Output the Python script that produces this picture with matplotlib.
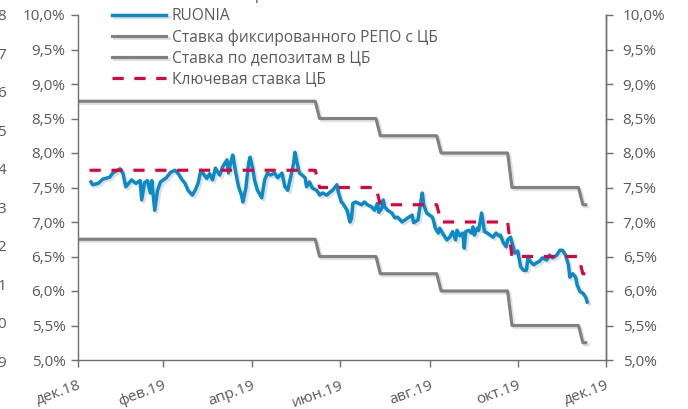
import numpy as np
import pandas as pd
import matplotlib
matplotlib.use("Agg")
import matplotlib.pyplot as plt
import matplotlib.patheffects as pe
from matplotlib.ticker import FuncFormatter

plt.rcParams['font.family'] = ['Open Sans', 'DejaVu Sans']

# RUONIA, days after 1 Jan 2019 and value in %
ruonia_day = [9, 10, 14, 17, 22, 24, 29, 31, 33, 37, 40, 43, 44, 46, 48, 50, 51, 53, 55, 57, 61,
              64, 67, 69, 72, 74, 76, 79, 81, 83, 85, 86, 89, 91, 93, 95, 97, 98, 100, 103, 104,
              106, 107, 109, 111, 113, 114, 116, 118, 119, 121, 122, 124, 127, 129, 131, 133, 136,
              138, 141, 143, 145, 147, 149, 150, 151, 153, 155, 157, 158, 160, 162, 165, 167, 169,
              172, 174, 176, 179, 180, 182, 183, 186, 188, 189, 190, 192, 194, 196, 198, 200, 203,
              205, 207, 208, 210, 211, 212, 214, 217, 219, 221, 224, 226, 228, 231, 232, 235, 236,
              238, 239, 241, 243, 245, 246, 247, 249, 250, 252, 254, 255, 257, 259, 261, 262, 264,
              266, 267, 268, 270, 272, 273, 274, 276, 277, 279, 280, 281, 283, 285, 287, 289, 291,
              292, 294, 296, 297, 299, 300, 302, 304, 306, 308, 310, 311, 313, 315, 317, 319, 321,
              324, 326, 328, 331, 333, 335, 337, 339, 340, 342, 344, 345, 347, 349, 351, 352]
ruonia_val = [7.58, 7.54, 7.56, 7.62, 7.65, 7.71, 7.77, 7.71, 7.51, 7.61, 7.56, 7.60, 7.32, 7.57,
              7.60, 7.42, 7.60, 7.17, 7.46, 7.58, 7.64,
              7.72, 7.75, 7.71, 7.61, 7.56, 7.46, 7.39, 7.46, 7.56, 7.75, 7.72, 7.63, 7.70, 7.61,
              7.78, 7.71, 7.68, 7.80, 7.90, 7.71, 7.90, 7.97, 7.72, 7.51, 7.39, 7.29, 7.49, 7.86,
              7.94, 7.75, 7.61, 7.46, 7.35, 7.61, 7.71, 7.68, 7.71, 7.64, 7.71, 7.51, 7.46, 7.65,
              7.85, 8.01, 7.90, 7.71, 7.68, 7.64, 7.51, 7.58, 7.49, 7.46, 7.39, 7.42, 7.39, 7.43,
              7.46, 7.54, 7.43, 7.29, 7.27, 7.17, 7.00, 7.05, 7.27, 7.29, 7.27, 7.25, 7.29, 7.25,
              7.22, 7.17, 7.27, 7.14, 7.20, 7.32, 7.22, 7.17, 7.13, 7.06, 7.07, 7.00, 7.03, 7.06,
              7.10, 6.99, 7.03, 7.17, 7.42, 7.25, 7.13, 7.10, 7.07, 7.00, 6.91, 6.84, 6.91, 6.84,
              6.77, 6.74, 6.78, 6.86, 6.74, 6.88, 6.80, 6.84, 6.62, 6.86, 6.88, 6.84, 6.93, 6.81,
              6.91, 6.88, 7.13, 6.99, 6.86, 6.84, 6.81, 6.78, 6.84, 6.80, 6.81, 6.70, 6.64, 6.74,
              6.78, 6.70, 6.55, 6.58, 6.35, 6.30, 6.30, 6.49, 6.42, 6.38, 6.41, 6.43, 6.48, 6.45,
              6.52, 6.48, 6.52, 6.59, 6.59, 6.52, 6.38, 6.20, 6.25, 6.20, 6.09, 5.99, 5.97, 5.91,
              5.84]
assert len(ruonia_day) == len(ruonia_val)

# CBR decisions
change_dates = ['2019-01-01', '2019-06-17', '2019-07-29', '2019-09-09', '2019-10-28', '2019-12-16']
key_rates = [7.75, 7.50, 7.25, 7.00, 6.50, 6.25]
repo_rates = [8.75, 8.50, 8.25, 8.00, 7.50, 7.25]
depo_rates = [6.75, 6.50, 6.25, 6.00, 5.50, 5.25]

xtick_dates = ['2019-01-01', '2019-03-01', '2019-05-01', '2019-07-01', '2019-09-01',
               '2019-11-01', '2020-01-01']
xtick_labels = ['дек.18', 'фев.19', 'апр.19', 'июн.19', 'авг.19', 'окт.19', 'дек.19']

labels = ['RUONIA', 'Ставка фиксированного РЕПО с ЦБ', 'Ставка по депозитам в ЦБ',
          'Ключевая ставка ЦБ']

BLUE = '#0a8ac6'
GREY = '#808080'
RED = '#e2003c'
TXT = '#595959'
AX = '#6e6e6e'


def step_series(start, end, rates):
    days = pd.bdate_range(start, end)
    idx = np.searchsorted(pd.to_datetime(change_dates), days, side='right') - 1
    return days, np.asarray(rates)[idx]


ruonia_dates = pd.Timestamp('2019-01-01') + pd.to_timedelta(ruonia_day, unit='D')
g_days, repo = step_series('2019-01-01', '2019-12-18', repo_rates)
_, depo = step_series('2019-01-01', '2019-12-18', depo_rates)
k_days, key = step_series('2019-01-09', '2019-12-18', key_rates)

fig = plt.figure(figsize=(6.88, 4.09), dpi=100)
ax = fig.add_axes([78 / 688, 1 - 360 / 409, 528 / 688, 345 / 409])

shadow = [pe.SimpleLineShadow(offset=(1.5, -1.5), shadow_color='0.4', alpha=0.2), pe.Normal()]
lw = 2.25
l_repo, = ax.plot(g_days, repo, color=GREY, lw=lw, path_effects=shadow, zorder=2)
l_depo, = ax.plot(g_days, depo, color=GREY, lw=lw, path_effects=shadow, zorder=2)
l_ru, = ax.plot(ruonia_dates, ruonia_val, color=BLUE, lw=2.5, path_effects=shadow, zorder=3,
                solid_joinstyle='round')
l_key, = ax.plot(k_days, key, color=RED, lw=lw, dashes=(3.6, 3.4), zorder=4)

ax.set_xlim(pd.Timestamp('2019-01-01'), pd.Timestamp('2020-01-01'))
ax.set_ylim(5.0, 10.0)
ax.set_yticks(np.arange(5.0, 10.01, 0.5))
pct = FuncFormatter(lambda v, p: f"{v:.1f}%".replace('.', ','))
ax.yaxis.set_major_formatter(pct)
ax.set_xticks(pd.to_datetime(xtick_dates))
ax.set_xticklabels(xtick_labels, rotation=20, ha='right', rotation_mode='anchor')

ax2 = ax.twinx()
ax2.set_ylim(ax.get_ylim())
ax2.set_yticks(ax.get_yticks())
ax2.yaxis.set_major_formatter(pct)

for a in (ax, ax2):
    a.spines['top'].set_visible(False)
    for s in ('left', 'right', 'bottom'):
        a.spines[s].set_color(AX)
        a.spines[s].set_linewidth(1.0)
    a.tick_params(colors=AX, labelcolor=TXT, labelsize=11, length=5, width=1.0, direction='out')
ax2.spines['left'].set_visible(False)
ax2.spines['bottom'].set_visible(False)
ax.tick_params(axis='x', pad=8)
ax.tick_params(axis='y', pad=4)
ax2.tick_params(axis='y', pad=7)

fig.legend([l_ru, l_repo, l_depo, l_key], labels, loc='upper left',
           bbox_to_anchor=(112 / 688, 1 - 8 / 409), frameon=False, fontsize=11.2,
           labelcolor=TXT, handlelength=3.5, handletextpad=0.35, labelspacing=0.33,
           borderpad=0, borderaxespad=0)

# clipped leftovers at the figure edges
for i, t in enumerate(['8', '7', '6', '5', '4', '3', '2', '1', '0', '9']):
    fig.text(6 / 688, 1 - (16.7 + i * 38.5) / 409, t, ha='right', va='center',
             fontsize=11, color=TXT)
fig.text(259 / 688, 1 + 1 / 409, 'р', ha='center', va='baseline', fontsize=11, color=TXT)

fig.savefig('out.png', dpi=100)
